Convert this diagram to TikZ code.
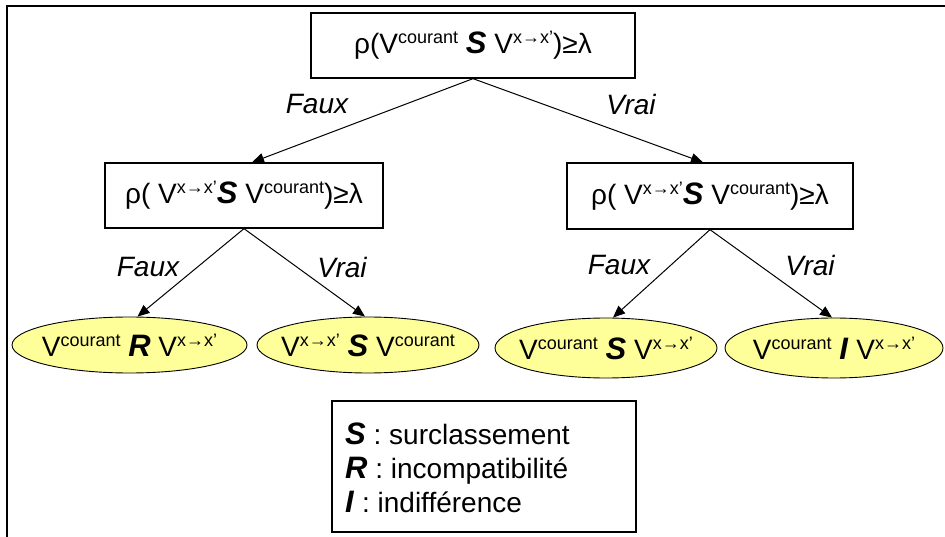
\documentclass[tikz,border=0pt]{standalone}
\usepackage{fontspec}
\setmainfont{Liberation Sans}
\usetikzlibrary{arrows.meta,shapes.geometric}
% raised small text for the V superscripts
\newcommand{\up}[1]{\raisebox{0.36em}{\fontsize{18}{18}\selectfont #1}}
\newcommand{\cour}{V\up{courant}}
\newcommand{\vxx}{V\up{x→x’}}
\newcommand{\rel}[1]{{\fontsize{31}{31}\selectfont\textbf{\textit{#1}}}}
\begin{document}
\begin{tikzpicture}[x=1pt,y=-1pt,
  txt/.style={font=\fontsize{28}{32}\selectfont},
  testbox/.style={draw=black,line width=1.3pt,rectangle,inner sep=0pt,txt},
  leaf/.style={draw=black,line width=0.9pt,ellipse,fill=leafyellow,inner sep=0pt},
  leaftext/.style={label={[txt,inner sep=0pt]center:#1}},
  arr/.style={draw=black,line width=1pt,-{Triangle[length=12pt,width=10pt]}},
  lbl/.style={font=\fontsize{28}{32}\selectfont\itshape},
  frameline/.style={line width=2pt,line cap=rect}]
\definecolor{leafyellow}{RGB}{255,255,153}
\useasboundingbox (0,0) rectangle (945,537);

% outer frame (top and left edges)
\draw[frameline] (945,6) -- (7,6) -- (7,537);

% decision boxes
\node[testbox,minimum width=324pt,minimum height=65pt] (top) at (473,45.5)
  {ρ(\cour{} \rel{S} \vxx)≥λ};
\node[testbox,minimum width=278pt,minimum height=65pt] (ml) at (244,195.5)
  {ρ( \vxx\rel{S} V\up{courant})≥λ};
\node[testbox,minimum width=286pt,minimum height=66pt] (mr) at (710,196)
  {ρ( \vxx\rel{S} V\up{courant})≥λ};

% outcomes (fixed-size ellipses, text set as a centred label)
\node[leaf,minimum width=235pt,minimum height=56pt,
  leaftext={\cour{} \rel{R} \vxx}] (e1) at (129.5,345) {};
\node[leaf,minimum width=222pt,minimum height=56pt,
  leaftext={\vxx{} \rel{S} \cour}] (e2) at (368,345) {};
\node[leaf,minimum width=222pt,minimum height=60pt,
  leaftext={\cour{} \rel{S} \vxx}] (e3) at (606,348) {};
\node[leaf,minimum width=218pt,minimum height=60pt,
  leaftext={\cour{} \rel{I} \vxx}] (e4) at (834,348) {};

% branches
\draw[arr] (top.south) -- ([xshift=8pt]ml.north);
\draw[arr] (top.south) -- ([xshift=-7pt]mr.north);
\draw[arr] (ml.south) -- ([xshift=8pt]e1.north);
\draw[arr] (ml.south) -- ([xshift=-3pt]e2.north);
\draw[arr] (mr.south) -- ([xshift=7pt]e3.north);
\draw[arr] (mr.south) -- ([xshift=-2pt]e4.north);

% branch labels
\node[lbl] (f1) at (317,104) {Faux};
\node[lbl] (v1) at (631,104) {Vrai};
\node[lbl] (f2) at (148,267) {Faux};
\node[lbl] (v2) at (342,267) {Vrai};
\node[lbl] (f3) at (619,265) {Faux};
\node[lbl] (v3) at (810,265) {Vrai};

% legend
\node[draw=black,line width=1.3pt,minimum width=304pt,minimum height=131pt,inner sep=0pt] (leg) at (484,466.5) {};
\node[anchor=west,align=left,inner sep=0pt,font=\fontsize{28}{34}\selectfont] (legtxt) at (345,468)
  {\rel{S} : surclassement\\ \rel{R} : incompatibilité\\ \rel{I} : indifférence};
\end{tikzpicture}
\end{document}
